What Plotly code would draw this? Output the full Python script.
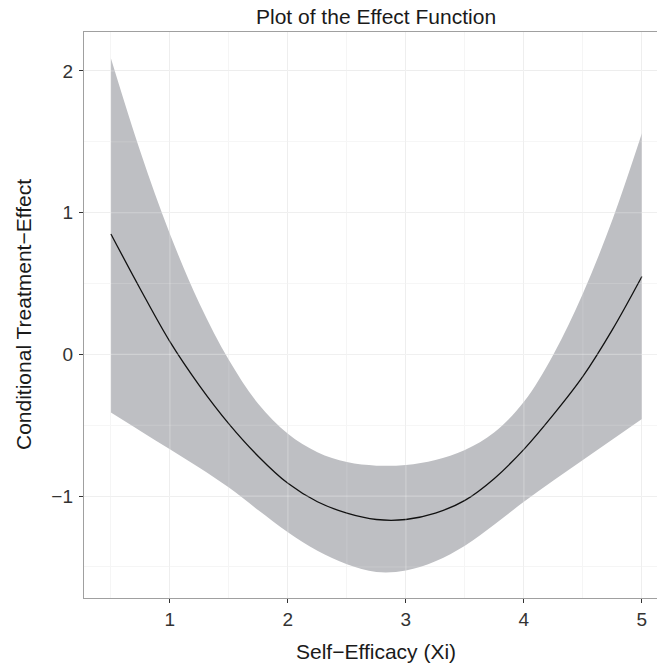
import plotly.graph_objects as go

# Data
x_vals = [0.5, 0.75, 1.0, 1.25, 1.5, 1.75, 2.0, 2.25, 2.5, 2.75, 3.0, 3.25, 3.5, 3.75, 4.0, 4.25, 4.5, 4.75, 5.0]
effect = [0.85, 0.46, 0.09, -0.22, -0.49, -0.72, -0.91, -1.04, -1.12, -1.165, -1.165, -1.12, -1.03, -0.875, -0.67, -0.425, -0.155, 0.175, 0.55]
upper = [2.09, 1.43, 0.85, 0.36, -0.04, -0.35, -0.56, -0.69, -0.76, -0.785, -0.78, -0.745, -0.675, -0.55, -0.335, 0.0, 0.43, 0.95, 1.56]
lower = [-0.41, -0.54, -0.67, -0.80, -0.94, -1.10, -1.255, -1.385, -1.48, -1.535, -1.525, -1.46, -1.35, -1.20, -1.04, -0.89, -0.745, -0.60, -0.455]

x_major = [1, 2, 3, 4, 5]
x_minor = [0.5, 1.5, 2.5, 3.5, 4.5]
y_major = [-1, 0, 1, 2]
y_minor = [-1.5, -0.5, 0.5, 1.5]

title_text = "Plot of the Effect Function"
x_title = "Self\u2212Efficacy (Xi)"
y_title = "Conditional Treatment\u2212Effect"

font_family = "Liberation Sans, Arial, sans-serif"

fig = go.Figure()
fig.add_trace(go.Scatter(x=x_vals, y=lower, mode="lines", line=dict(width=0, shape="spline"),
                         showlegend=False, hoverinfo="skip"))
fig.add_trace(go.Scatter(x=x_vals, y=upper, mode="lines", line=dict(width=0, shape="spline"),
                         fill="tonexty", fillcolor="#bebfc3", showlegend=False, hoverinfo="skip"))
fig.add_trace(go.Scatter(x=x_vals, y=effect, mode="lines", line=dict(color="#111111", width=1.3, shape="spline"),
                         showlegend=False))

# faint grid visible through the ribbon
shapes = []
for v in x_major:
    shapes.append(dict(type="line", xref="x", yref="paper", x0=v, x1=v, y0=0, y1=1, layer="above",
                       line=dict(color="rgba(255,255,255,0.28)", width=1.1)))
for v in x_minor:
    shapes.append(dict(type="line", xref="x", yref="paper", x0=v, x1=v, y0=0, y1=1, layer="above",
                       line=dict(color="rgba(255,255,255,0.15)", width=1)))
for v in y_major:
    shapes.append(dict(type="line", xref="paper", yref="y", x0=0, x1=1, y0=v, y1=v, layer="above",
                       line=dict(color="rgba(255,255,255,0.28)", width=1.1)))
for v in y_minor:
    shapes.append(dict(type="line", xref="paper", yref="y", x0=0, x1=1, y0=v, y1=v, layer="above",
                       line=dict(color="rgba(255,255,255,0.15)", width=1)))

fig.update_layout(
    width=657, height=666,
    margin=dict(l=84, r=0, t=32, b=68),
    paper_bgcolor="white", plot_bgcolor="white",
    font=dict(family=font_family, color="#222222"),
    shapes=shapes,
    annotations=[
        dict(text=title_text, xref="paper", yref="paper", x=0.509, y=1, yshift=16, yanchor="middle",
             xanchor="center", showarrow=False, font=dict(size=21, color="#1a1a1a")),
        dict(text=x_title, xref="paper", yref="paper", x=0.509, y=0, yshift=-53, yanchor="middle",
             xanchor="center", showarrow=False, font=dict(size=21, color="#1a1a1a")),
        dict(text=y_title, xref="paper", yref="paper", x=0, xshift=-61, y=0.5, yanchor="middle",
             xanchor="center", textangle=-90, showarrow=False, font=dict(size=21, color="#1a1a1a")),
    ],
)

fig.update_xaxes(
    range=[0.272, 5.128], tickmode="array", tickvals=x_major,
    ticktext=[str(v) for v in x_major],
    showgrid=True, gridcolor="#ebebeb", gridwidth=1.1,
    minor=dict(tickvals=x_minor, showgrid=True, gridcolor="#f5f5f5", gridwidth=1, ticks=""),
    showline=True, linecolor="#a0a0a0", linewidth=1.4, mirror=True,
    ticks="outside", ticklen=4, tickwidth=1.1, tickcolor="#333333",
    tickfont=dict(size=19, color="#333333"), zeroline=False,
)
fig.update_yaxes(
    range=[-1.719, 2.275], tickmode="array", tickvals=y_major,
    ticktext=["\u22121", "0", "1", "2"],
    showgrid=True, gridcolor="#ebebeb", gridwidth=1.1,
    minor=dict(tickvals=y_minor, showgrid=True, gridcolor="#f5f5f5", gridwidth=1, ticks=""),
    showline=True, linecolor="#a0a0a0", linewidth=1.4, mirror=False,
    ticks="outside", ticklen=4, tickwidth=1.1, tickcolor="#333333",
    tickfont=dict(size=19, color="#333333"), zeroline=False, ticklabelstandoff=2,
)

fig.write_html("out.html", config={"displayModeBar": False},
               post_script="document.body.style.margin='0';document.body.style.overflow='hidden';")
